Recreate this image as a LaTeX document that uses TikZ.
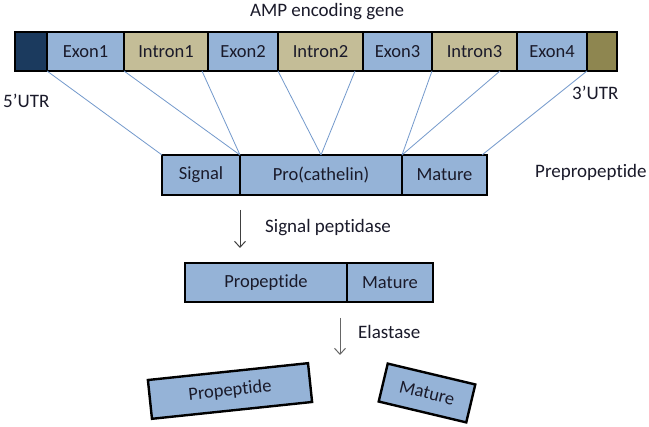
\documentclass[tikz,border=0pt]{standalone}
\usepackage{fontspec}
\setmainfont{Carlito}[Ligatures={NoCommon}]
\usetikzlibrary{arrows.meta,calc}
\definecolor{exonc}{HTML}{95B3D7}
\definecolor{intronc}{HTML}{C4BD97}
\definecolor{utrfive}{HTML}{1B3A5E}
\definecolor{utrthree}{HTML}{8E8650}
\definecolor{linkc}{HTML}{7399CC}
\definecolor{txtc}{HTML}{1A1A2A}
\begin{document}
\begin{tikzpicture}[x=1pt,y=-1pt,
  seg/.style={draw=black,line width=2.4pt,rectangle,inner sep=0pt,outer sep=0pt,
    minimum height=39pt,font=\fontsize{18.5}{20}\selectfont,text=txtc},
  exon/.style={seg,fill=exonc},
  intron/.style={seg,fill=intronc},
  link/.style={draw=linkc,line width=0.8pt},
  lbl/.style={font=\fontsize{19}{21}\selectfont,text=txtc,inner sep=0pt,anchor=base west},
  step arrow/.style={draw=black!75,line width=1pt,-{Straight Barb[length=6pt,width=11pt,line width=1pt]}}
]
\useasboundingbox (0,0) rectangle (649,427);
\fill[white] (0,0) rectangle (649,427);

% title
\node[lbl,anchor=base] (title) at (327,16.5) {AMP encoding gene};

% gene bar
\node[seg,fill=utrfive,minimum width=32pt] (u5) at (31,51.5) {};
\node[exon,minimum width=77pt] (ex1) at (85.5,51.5) {Exon1};
\node[intron,minimum width=84pt] (in1) at (166,51.5) {Intron1};
\node[exon,minimum width=70pt] (ex2) at (243,51.5) {Exon2};
\node[intron,minimum width=85pt] (in2) at (320.5,51.5) {Intron2};
\node[exon,minimum width=69pt] (ex3) at (397.5,51.5) {Exon3};
\node[intron,minimum width=85pt] (in3) at (474.5,51.5) {Intron3};
\node[exon,minimum width=70pt] (ex4) at (552,51.5) {Exon4};
\node[seg,fill=utrthree,minimum width=30pt] (u3) at (602,51.5) {};

\node[lbl] (l5) at (3,108) {5’UTR};
\node[lbl] (l3) at (572,100) {3’UTR};

% prepropeptide
\node[exon,minimum width=78pt,minimum height=40pt] (sig) at (201,175) {Signal};
\node[exon,minimum width=162pt,minimum height=40pt] (pro) at (321,175) {Pro(cathelin)};
\node[exon,minimum width=85pt,minimum height=40pt] (mat) at (444.5,175) {Mature};
\node[lbl] (lpre) at (535,178) {Prepropeptide};

% connector start/end points
\coordinate (s1) at (ex1.south west);
\coordinate (s2) at (in1.south west);
\coordinate (s3) at ($(ex2.south west)+(-6,0)$);
\coordinate (s4) at (in2.south west);
\coordinate (s5) at ($(ex3.south west)+(-8,0)$);
\coordinate (s6) at (in3.south west);
\coordinate (s7) at ($(in3.south east)+(-17,0)$);
\coordinate (s8) at (u3.south west);
\coordinate (e8) at ($(mat.north east)+(-5,0)$);

\draw[link] (s1) -- (sig.north west);
\draw[link] (s2) -- (sig.north east);
\draw[link] (s3) -- (sig.north east);
\draw[link] (s4) -- (pro.north);
\draw[link] (s5) -- (pro.north);
\draw[link] (s6) -- (mat.north west);
\draw[link] (s7) -- (mat.north west);
\draw[link] (s8) -- (e8);

% signal peptidase step
\coordinate (a1s) at (240,210);
\coordinate (a1e) at (240,248);
\draw[step arrow] (a1s) -- (a1e);
\node[lbl] (lsp) at (265,233) {Signal peptidase};

% propeptide
\node[exon,minimum width=162pt] (prop) at (266,282.5) {Propeptide};
\node[exon,minimum width=86pt] (mat2) at (390,282.5) {Mature};

% elastase step
\coordinate (a2s) at (340,318);
\coordinate (a2e) at (340,355);
\draw[step arrow,draw=black!60] (a2s) -- (a2e);
\node[lbl] (lel) at (358,339) {Elastase};

% cleaved products
\node[exon,minimum width=161pt,rotate=6] (prop2) at (230,391) {Propeptide};
\node[exon,minimum width=90pt,rotate=-13.4] (mat3) at (427,393) {Mature};
\end{tikzpicture}
\end{document}
